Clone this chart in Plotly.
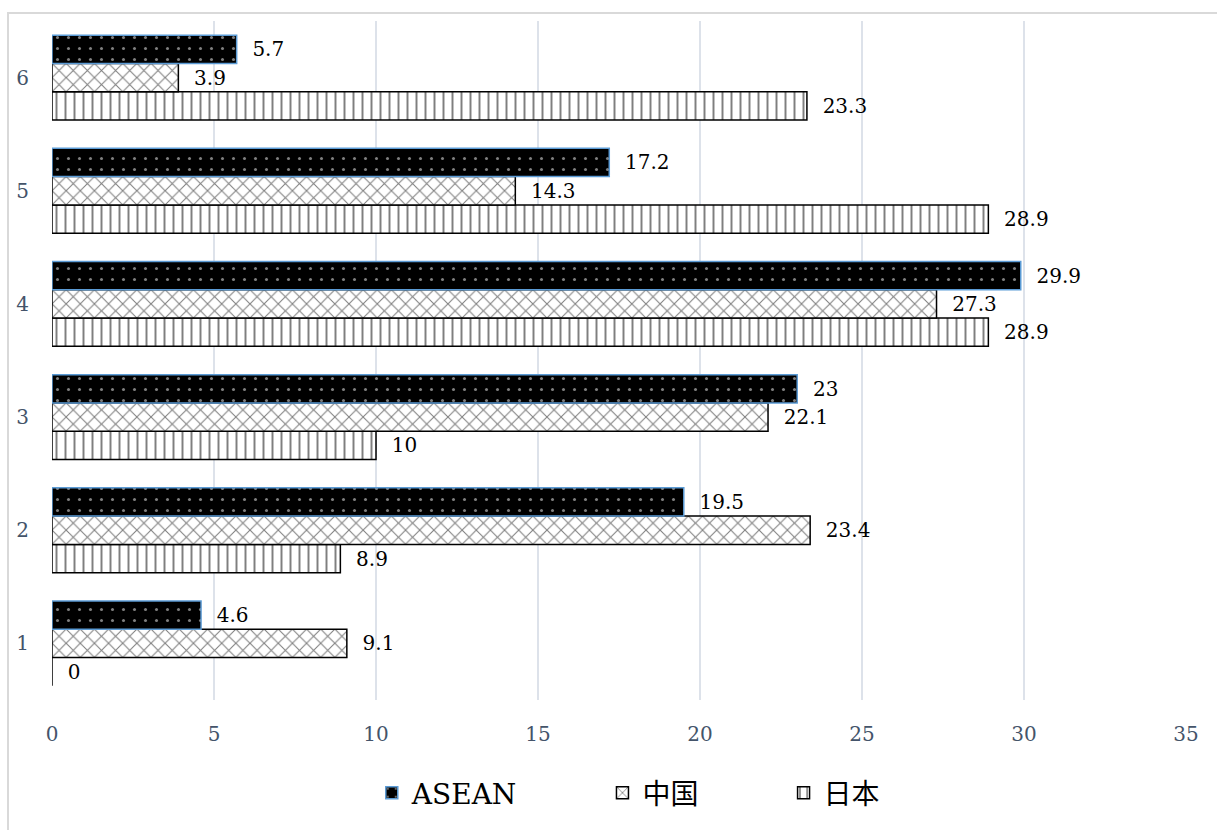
import plotly.graph_objects as go

# Categories (y axis) and series values
categories = ["1", "2", "3", "4", "5", "6"]
asean = [4.6, 19.5, 23, 29.9, 17.2, 5.7]
china = [9.1, 23.4, 22.1, 27.3, 14.3, 3.9]
japan = [0, 8.9, 10, 28.9, 28.9, 23.3]
x_ticks = [0, 5, 10, 15, 20, 25, 30, 35]

SERIF = "DejaVu Serif, Liberation Serif, serif"
NBSP = "\u00a0"


def labels(values):
    return [NBSP * 2 + f"{v:g}" for v in values]


fig = go.Figure()

# Plotly stacks grouped horizontal bars bottom-up, so add 日本 first
fig.add_trace(go.Bar(
    name="日本", y=categories, x=japan, orientation="h",
    text=labels(japan), textposition="outside",
    marker=dict(color="white", line=dict(color="black", width=1.5),
                pattern=dict(shape="|", fgcolor="black", bgcolor="white",
                             size=9, solidity=0.22)),
))
fig.add_trace(go.Bar(
    name="中国" + NBSP * 9, y=categories, x=china, orientation="h",
    text=labels(china), textposition="outside",
    marker=dict(color="white", line=dict(color="black", width=1.5),
                pattern=dict(shape="x", fgcolor="black", bgcolor="white",
                             size=10, solidity=0.2)),
))
fig.add_trace(go.Bar(
    name="ASEAN" + NBSP * 9, y=categories, x=asean, orientation="h",
    text=labels(asean), textposition="outside",
    marker=dict(color="black", line=dict(color="#5B9BD5", width=1.5),
                pattern=dict(shape=".", fgcolor="white", bgcolor="black",
                             size=11, solidity=0.06)),
))

fig.update_traces(textfont=dict(family=SERIF, size=20, color="black"),
                  cliponaxis=False)

fig.update_layout(
    width=1217, height=830,
    margin=dict(l=52, r=31, t=21, b=128),
    paper_bgcolor="white", plot_bgcolor="white",
    barmode="group", bargap=0.25, bargroupgap=0,
    font=dict(family=SERIF, color="#44546A"),
    xaxis=dict(range=[0, 35], tickvals=x_ticks, showgrid=True,
               gridcolor="#DDE2EA", gridwidth=2, zeroline=False,
               showline=False, ticks="", ticklabelstandoff=20,
               tickfont=dict(family=SERIF, size=20, color="#44546A")),
    yaxis=dict(type="category", categoryorder="array", categoryarray=categories,
               showgrid=False, zeroline=False, showline=False, ticks="",
               ticklabelstandoff=22,
               tickfont=dict(family=SERIF, size=20, color="#44546A")),
    legend=dict(orientation="h", traceorder="reversed",
                x=0.282, xanchor="left", y=-0.137, yanchor="middle",
                font=dict(family=SERIF + ", Noto Sans CJK SC", size=28,
                          color="black")),
    shapes=[dict(type="rect", xref="paper", yref="paper",
                 x0=-0.0388, x1=1.2, y0=-0.4, y1=1.0117,
                 line=dict(color="#D9D9D9", width=2), layer="below")],
)

fig.write_html("out.html")
